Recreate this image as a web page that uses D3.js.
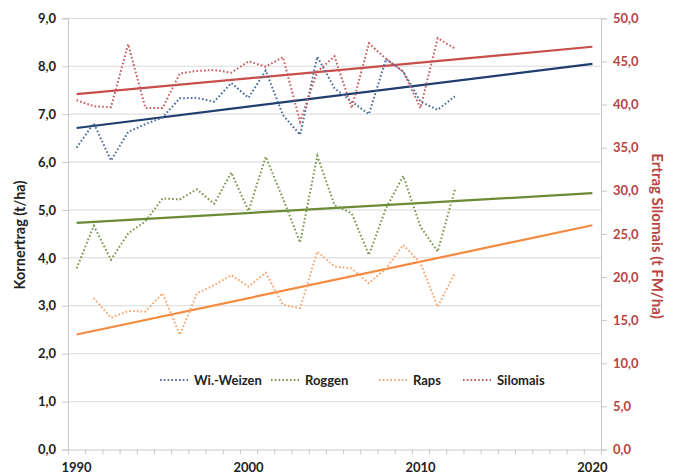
<!DOCTYPE html>
<html>
<head>
<meta charset="utf-8">
<script src="https://cdn.jsdelivr.net/npm/d3@7"></script>
<style>
  body { margin: 0; background: #fff; }
  svg text { font-family: Lato, "Open Sans", sans-serif; }
</style>
</head>
<body>
<svg id="chart" width="680" height="475"></svg>
<script>
// years of measured data
const years = d3.range(1990, 2013);
// yields in t/ha (left axis), Silomais in t FM/ha (right axis)
const weizen = [6.30, 6.81, 6.03, 6.63, 6.79, 6.93, 7.33, 7.34, 7.26, 7.65, 7.34, 7.91, 6.98, 6.57, 8.20, 7.54, 7.26, 7.00, 8.15, 7.89, 7.26, 7.09, 7.37];
const roggen = [3.78, 4.67, 3.96, 4.51, 4.76, 5.24, 5.22, 5.43, 5.13, 5.78, 4.98, 6.11, 5.24, 4.32, 6.13, 5.10, 4.93, 4.06, 5.04, 5.71, 4.65, 4.13, 5.42];
const raps = [null, 3.16, 2.75, 2.89, 2.88, 3.26, 2.39, 3.26, 3.43, 3.64, 3.40, 3.69, 3.02, 2.95, 4.13, 3.82, 3.78, 3.47, 3.78, 4.27, 3.89, 2.98, 3.68];
const silomais = [40.5, 39.8, 39.7, 47.0, 39.6, 39.6, 43.6, 43.9, 44.0, 43.7, 45.0, 44.4, 45.5, 38.0, 43.8, 45.6, 39.6, 47.1, 45.3, 43.8, 39.6, 47.7, 46.5];

// trend lines, values at 1990 and 2020
const trendYears = [1990, 2020];
const weizenTrend = [6.71, 8.05];
const roggenTrend = [4.73, 5.35];
const rapsTrend = [2.40, 4.68];
const silomaisTrend = [41.2, 46.7];

const leftTicks = d3.range(0, 10);
const rightTicks = d3.range(0, 55, 5);
const yearLabels = [1990, 2000, 2010, 2020];

let svg = d3.select("#chart");
let plotLeft = 68, plotRight = 601, plotTop = 18.3, plotBottom = 449.5;

let x = d3.scaleLinear().domain([1989.5, 2020.5]).range([plotLeft, plotRight]);
let yL = d3.scaleLinear().domain([0, 9]).range([plotBottom, plotTop]);
let yR = d3.scaleLinear().domain([0, 50]).range([plotBottom, plotTop]);
let fmt = d => d.toFixed(1).replace(".", ",");

// gridlines
svg.append("g").selectAll("line").data(leftTicks.slice(1))
  .join("line")
  .attr("x1", plotLeft).attr("x2", plotRight)
  .attr("y1", d => yL(d)).attr("y2", d => yL(d))
  .attr("stroke", "#d9d9d9").attr("stroke-width", 1);

// left axis
let gL = svg.append("g").attr("transform", `translate(${plotLeft},0)`)
  .call(d3.axisLeft(yL).tickValues(leftTicks).tickFormat(fmt).tickSize(6).tickPadding(6));
gL.select(".domain").attr("stroke", "#c8c8c8");
gL.selectAll(".tick line").attr("stroke", "#c8c8c8");
gL.selectAll("text").attr("font-size", 13).attr("font-weight", "bold").attr("fill", "#222");

// right axis
let gR = svg.append("g").attr("transform", `translate(${plotRight},0)`)
  .call(d3.axisRight(yR).tickValues(rightTicks).tickFormat(fmt).tickSize(6).tickPadding(6));
gR.select(".domain").attr("stroke", "#c8c8c8");
gR.selectAll(".tick line").attr("stroke", "#c8c8c8");
gR.selectAll("text").attr("font-size", 13).attr("font-weight", "bold").attr("fill", "#b8443f");

// bottom axis: ticks on year boundaries, labels every 10 years
let gB = svg.append("g").attr("transform", `translate(0,${plotBottom})`)
  .call(d3.axisBottom(x).tickValues(d3.range(1989.5, 2021, 1)).tickFormat("").tickSize(5));
gB.select(".domain").attr("stroke", "#c8c8c8");
gB.selectAll(".tick line").attr("stroke", "#c8c8c8");
svg.append("g").selectAll("text").data(yearLabels)
  .join("text")
  .attr("x", d => x(d)).attr("y", 472)
  .attr("text-anchor", "middle")
  .attr("font-size", 13).attr("font-weight", "bold").attr("fill", "#222")
  .text(d => d);

// axis titles
svg.append("text")
  .attr("transform", "translate(25,235) rotate(-90)")
  .attr("text-anchor", "middle").attr("font-size", 14.5).attr("font-weight", "bold").attr("fill", "#222")
  .text("Kornertrag (t/ha)");
svg.append("text")
  .attr("transform", "translate(652,236) rotate(90)")
  .attr("text-anchor", "middle").attr("font-size", 15).attr("font-weight", "bold").attr("fill", "#b8443f")
  .text("Ertrag Silomais (t FM/ha)");

const series = [
  { name: "Wi.-Weizen", values: weizen, trend: weizenTrend, y: yL, color: "#4a6b9c", trendColor: "#1f3d6d" },
  { name: "Roggen", values: roggen, trend: roggenTrend, y: yL, color: "#7a9448", trendColor: "#6a8a34" },
  { name: "Raps", values: raps, trend: rapsTrend, y: yL, color: "#f5a56a", trendColor: "#f58a3f" },
  { name: "Silomais", values: silomais, trend: silomaisTrend, y: yR, color: "#c9595a", trendColor: "#c64e4b" }
];

// trend lines
series.forEach(s => {
  let line = d3.line().x(d => x(d[0])).y(d => s.y(d[1]));
  svg.append("path")
    .datum(trendYears.map((yr, i) => [yr, s.trend[i]]))
    .attr("d", line)
    .attr("fill", "none")
    .attr("stroke", s.trendColor)
    .attr("stroke-width", 2.2);
});

// dotted data lines
series.forEach(s => {
  let line = d3.line()
    .defined(d => d[1] != null)
    .x(d => x(d[0])).y(d => s.y(d[1]));
  svg.append("path")
    .datum(years.map((yr, i) => [yr, s.values[i]]))
    .attr("d", line)
    .attr("fill", "none")
    .attr("stroke", s.color)
    .attr("stroke-width", 2)
    .attr("stroke-dasharray", "1.6,2.2");
});

// legend
const legendX = [160, 271, 379, 463];
let leg = svg.append("g").selectAll("g").data(series)
  .join("g")
  .attr("transform", (d, i) => `translate(${legendX[i]},380)`);
leg.append("line")
  .attr("x1", 0).attr("x2", 28).attr("y1", 0).attr("y2", 0)
  .attr("stroke", d => d.color).attr("stroke-width", 2)
  .attr("stroke-dasharray", "1.6,2.2");
leg.append("text")
  .attr("x", 34).attr("y", 4.5)
  .attr("font-size", 13).attr("font-weight", "bold").attr("fill", "#222")
  .text(d => d.name);
</script>
</body>
</html>
